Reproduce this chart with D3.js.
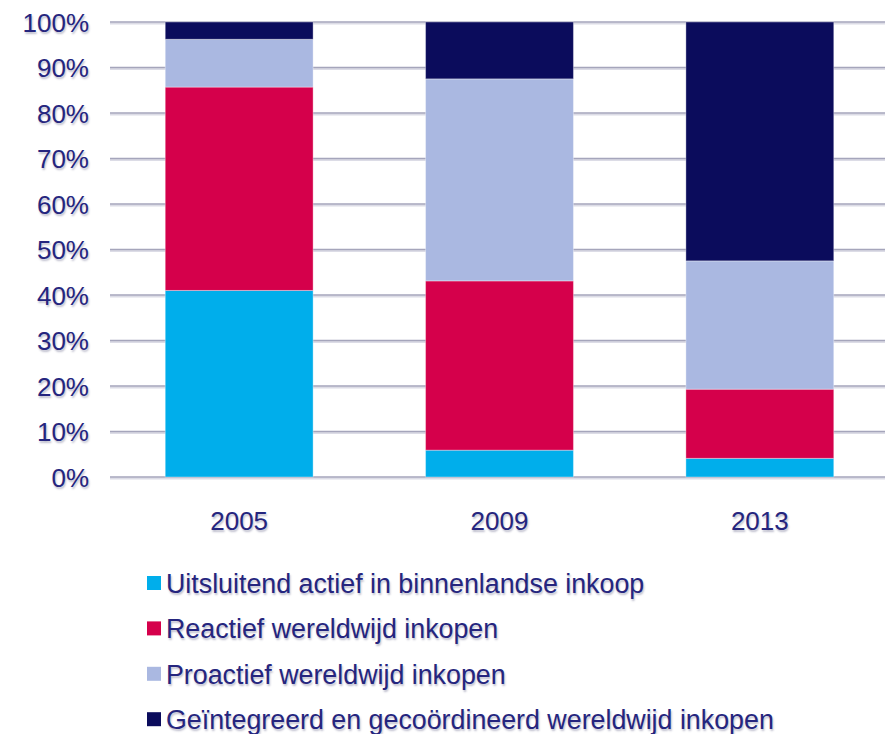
<!DOCTYPE html>
<html><head><meta charset="utf-8">
<script src="https://cdn.jsdelivr.net/npm/d3@7"></script>
<style>
body{margin:0;background:#fff;}
svg text{font-family:"Liberation Sans",Arial,sans-serif;fill:#25257e;text-shadow:1px 2px 2px rgba(40,40,90,0.3);}
</style></head>
<body><svg id="c" width="885" height="734"></svg>
<script>
const years = ["2005","2009","2013"];
const seriesNames = ["Uitsluitend actief in binnenlandse inkoop","Reactief wereldwijd inkopen","Proactief wereldwijd inkopen","Geïntegreerd en gecoördineerd wereldwijd inkopen"];
const seriesColors = ["#00aeeb","#d5004b","#aab8e1","#0b0c5c"];
const domestic   = [41.0, 5.9, 4.1];
const reactive   = [44.7, 37.2, 15.2];
const proactive  = [10.5, 44.4, 28.2];
const integrated = [3.8, 12.5, 52.5];
const yTicks = [0,10,20,30,40,50,60,70,80,90,100];

const rows = years.map((y,i)=>({year:y, s0:domestic[i], s1:reactive[i], s2:proactive[i], s3:integrated[i]}));
const keys = ["s0","s1","s2","s3"];
const stacked = d3.stack().keys(keys)(rows);

const svg = d3.select("#c");
const x = d3.scaleBand().domain(years).range([109,890]).paddingInner(0.432).paddingOuter(0.216);
const y = d3.scaleLinear().domain([0,100]).range([477,22]);

// gridlines
const grid = svg.append("g");
yTicks.forEach(t=>{
  grid.append("line").attr("x1",110).attr("x2",885).attr("y1",y(t)+1.5).attr("y2",y(t)+1.5)
    .attr("stroke","#dcdce6").attr("stroke-width",2);
  grid.append("line").attr("x1",110).attr("x2",885).attr("y1",y(t)).attr("y2",y(t))
    .attr("stroke","#a5a5bb").attr("stroke-width",1.6);
});

// y axis labels
const yAxis = d3.axisLeft(y).tickValues(yTicks).tickFormat(d=>d+"%").tickSize(0).tickPadding(0);
const ya = svg.append("g").attr("transform","translate(89,0)").call(yAxis);
ya.select(".domain").remove();
ya.selectAll("text").attr("font-size",26).attr("dy","0.36em").attr("font-family",null);

// bars
svg.append("g").selectAll("g").data(stacked).join("g")
  .attr("fill",(d,i)=>seriesColors[i])
  .selectAll("rect").data(d=>d).join("rect")
  .attr("x",d=>x(d.data.year)).attr("width",x.bandwidth())
  .attr("y",d=>y(d[1])).attr("height",d=>y(d[0])-y(d[1]))
  .attr("stroke","rgba(255,255,255,0.35)").attr("stroke-width",1);

// x axis labels
const xAxis = d3.axisBottom(x).tickSize(0).tickPadding(0);
const xa = svg.append("g").attr("transform","translate(0,510)").call(xAxis);
xa.select(".domain").remove();
xa.selectAll("text").attr("font-size",26).attr("dy","0.78em").attr("font-family",null);

// legend
const lg = svg.append("g");
seriesNames.forEach((n,i)=>{
  const by = 593 + i*45.4;
  lg.append("rect").attr("x",147).attr("y",by-17).attr("width",14).attr("height",14).attr("fill",seriesColors[i]);
  lg.append("text").attr("x",166).attr("y",by).attr("font-size",26.8).text(n);
});
</script></body></html>
